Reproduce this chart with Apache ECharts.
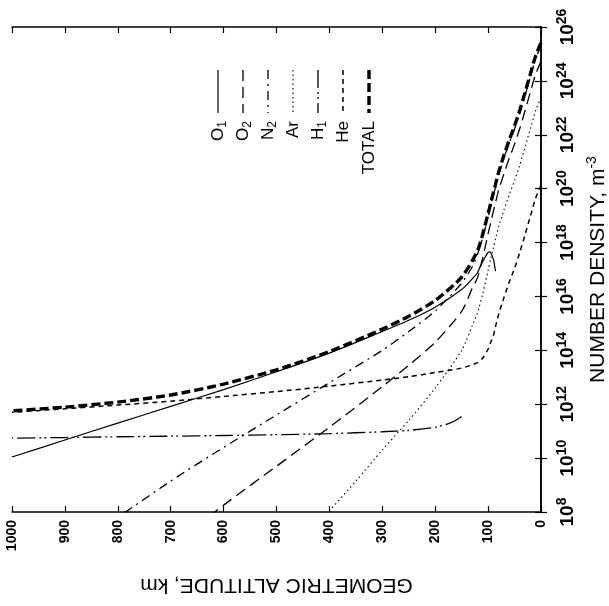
<!DOCTYPE html>
<html>
<head>
<meta charset="utf-8">
<script src="https://cdn.jsdelivr.net/npm/echarts@6/dist/echarts.min.js"></script>
<style>
html,body{margin:0;padding:0;background:#fff;}
#c{width:609px;height:606px;}
</style>
</head>
<body>
<div id="c"></div>
<script>
// ---- data (altitude km, number density m^-3) ----
const altTotal = [0,10,20,30,40,50,60,70,80,86,90,95,100,110,120,150,200,250,300,400,500,600,700,800,900,1000];
const nTotal   = [2.55e25,8.6e24,1.85e24,3.8e23,8.3e22,2.14e22,6.4e21,1.74e21,4.2e20,1.45e20,7.3e19,2.9e19,1.2e19,2.1e18,5.0e17,5.2e16,7.1e15,1.85e15,6.1e14,9.0e13,1.9e13,5.6e12,2.2e12,1.2e12,7.8e11,5.7e11];

const altO1 = [86,90,95,97,100,110,115,120,130,150,200,250,300,400,500,600,700,800,900,1000];
const nO1   = [8.6e16,2.4e17,4.2e17,4.5e17,4.3e17,2.0e17,1.3e17,7.6e16,4.5e16,1.8e16,4.0e15,1.3e15,5.0e14,7.9e13,1.6e13,3.5e12,8.3e11,2.0e11,4.7e10,1.1e10];

const altO2 = [0,10,20,30,40,50,60,70,80,86,90,95,100,110,120,130,150,200,250,300,400,500,600,630];
const nO2   = [5.3e24,1.8e24,3.9e23,8.0e22,1.74e22,4.5e21,1.34e21,3.6e20,8.8e19,3.0e19,1.45e19,5.5e18,2.15e18,2.8e17,5.0e16,2.0e16,2.8e15,2.0e14,2.8e13,4.5e12,1.4e11,5.0e9,1.8e8,6.3e7];

const altN2 = [0,10,20,30,40,50,60,70,80,86,90,95,100,110,120,130,150,200,250,300,400,500,600,700,800];
const nN2   = [1.99e25,6.7e24,1.44e24,2.97e23,6.5e22,1.67e22,5.0e21,1.36e21,3.3e20,1.13e20,5.8e19,2.3e19,9.2e18,1.6e18,3.7e17,1.26e17,3.1e16,2.9e15,5.0e14,1.0e14,6.3e12,4.0e11,2.5e10,1.4e9,6.3e7];

const altAr = [0,10,20,30,40,50,60,70,80,86,90,95,100,110,120,130,150,200,250,300,350,420];
const nAr   = [2.4e23,8.0e22,1.73e22,3.5e21,7.8e20,2.0e20,6.0e19,1.63e19,3.9e18,1.35e18,6.3e17,2.5e17,9.3e16,1.3e16,2.5e15,8.0e14,1.0e14,4.0e12,2.5e11,2.0e10,1.4e9,4.0e7];

const altH1 = [150,160,175,200,250,300,400,500,600,700,800,900,1000];
const nH1   = [3.5e11,2.6e11,1.9e11,1.4e11,1.07e11,9.5e10,8.1e10,7.4e10,6.9e10,6.5e10,6.2e10,5.8e10,5.5e10];

const altHe = [0,10,20,30,40,50,60,70,80,86,90,95,100,110,120,150,200,250,300,400,500,600,700,800,900,1000];
const nHe   = [1.34e20,4.5e19,9.7e18,2.0e18,4.4e17,1.1e17,3.4e16,9.1e15,2.2e15,7.6e14,3.5e14,2.0e14,1.1e14,5.2e13,3.5e13,2.2e13,1.5e13,1.05e13,7.9e12,4.7e12,2.95e12,1.95e12,1.3e12,9.3e11,6.8e11,5.0e11];

const altTicks = [0,100,200,300,400,500,600,700,800,900,1000];
const densityExponents = [8,10,12,14,16,18,20,22,24,26];

const legendNames = ['O1','O2','N2','Ar','H1','He','TOTAL'];

// ---- build ----
function pairs(a, n){ return a.map((v,i)=>[v, n[i]]); }
const FONT = 'Liberation Sans, Arial, Helvetica, sans-serif';

const styles = {
  O1:    {width:1.2, type:'solid'},
  O2:    {width:1.3, type:[11,6]},
  N2:    {width:1.3, type:[9,5,2,5]},
  Ar:    {width:1.1, type:[1.5,3]},
  H1:    {width:1.3, type:[18,4,2,3,2,4]},
  He:    {width:1.5, type:[5,4]},
  TOTAL: {width:3.4, type:[9,4]}
};
const seriesData = {
  O1: pairs(altO1,nO1), O2: pairs(altO2,nO2), N2: pairs(altN2,nN2),
  Ar: pairs(altAr,nAr), H1: pairs(altH1,nH1), He: pairs(altHe,nHe),
  TOTAL: pairs(altTotal,nTotal)
};

const series = legendNames.map(k => ({
  name: k, type: 'line', data: seriesData[k], showSymbol: false, symbol: 'none',
  smooth: 0.25, clip: true, silent: true, animation: false,
  lineStyle: {color:'#000', width: styles[k].width, type: styles[k].type}
}));

// legend drawn rotated (graphic)
const legX = [218,243,268,293,318,343,369];
const legendLabels = {
  O1:'O{s|1}', O2:'O{s|2}', N2:'N{s|2}', Ar:'Ar', H1:'H{s|1}', He:'He', TOTAL:'TOTAL'
};
const graphics = [];
legendNames.forEach((k,i) => {
  graphics.push({
    type:'line', shape:{x1:legX[i], y1:70, x2:legX[i], y2:113},
    style:{stroke:'#000', lineWidth: styles[k].width, lineDash: styles[k].type === 'solid' ? null : styles[k].type}
  });
  graphics.push({
    type:'text', x: legX[i], y: 121, rotation: Math.PI/2,
    style:{text: legendLabels[k], fill:'#000', font: '17px ' + FONT, align:'right', verticalAlign:'middle',
      rich:{ s:{fontSize:12, fontFamily:FONT, padding:[9,0,0,0]} } }
  });
});

const tickStyle = {show:true, inside:true, length:6, lineStyle:{color:'#000', width:1.2}};
const axisLineStyle = {show:true, lineStyle:{color:'#000', width:1.5}};

const option = {
  backgroundColor:'#fff',
  animation:false,
  grid:{left:12, right:68, top:27, bottom:94, containLabel:false, outerBoundsMode:'none'},
  xAxis:[
    {type:'value', min:0, max:1000, interval:100, inverse:true, position:'bottom',
     axisLine:axisLineStyle, axisTick:tickStyle, splitLine:{show:false},
     axisLabel:{rotate:90, margin:8, color:'#000', fontSize:14, fontWeight:'bold', fontFamily:FONT,
       formatter: v => altTicks.includes(v) ? String(v) : ''},
     name:'GEOMETRIC ALTITUDE, km', nameLocation:'middle', nameGap:62, nameRotate:180,
     nameTextStyle:{color:'#000', fontSize:21, fontFamily:FONT}},
    {type:'value', min:0, max:1000, interval:100, inverse:true, position:'top',
     axisLine:axisLineStyle, axisTick:tickStyle, axisLabel:{show:false}, splitLine:{show:false}}
  ],
  yAxis:[
    {type:'log', logBase:10, min:1e8, max:1e26, interval:2, position:'right',
     axisLine:axisLineStyle, axisTick:tickStyle, splitLine:{show:false}, minorTick:{show:false},
     axisLabel:{rotate:90, margin:14, color:'#000', fontFamily:FONT,
       formatter: v => { const e = Math.round(Math.log10(v)); return densityExponents.includes(e) ? '{b|10}{s|' + e + '}' : ''; },
       rich:{ b:{fontSize:19, fontWeight:'bold', fontFamily:FONT, color:'#000'},
              s:{fontSize:14, fontWeight:'bold', fontFamily:FONT, color:'#000', padding:[0,0,11,0]} }},
     name:'NUMBER DENSITY, m{s|-3}', nameLocation:'middle', nameGap:43, nameRotate:90,
     nameTextStyle:{color:'#000', fontSize:21, fontFamily:FONT,
       rich:{ s:{fontSize:14, fontFamily:FONT, color:'#000', padding:[0,0,12,0]} }}},
    {type:'log', logBase:10, min:1e8, max:1e26, interval:2, position:'left',
     axisLine:axisLineStyle, axisTick:tickStyle, axisLabel:{show:false}, splitLine:{show:false}}
  ],
  series: series,
  graphic: graphics
};

const chart = echarts.init(document.getElementById('c'), null, {renderer:'canvas'});
chart.setOption(option);
</script>
</body>
</html>
